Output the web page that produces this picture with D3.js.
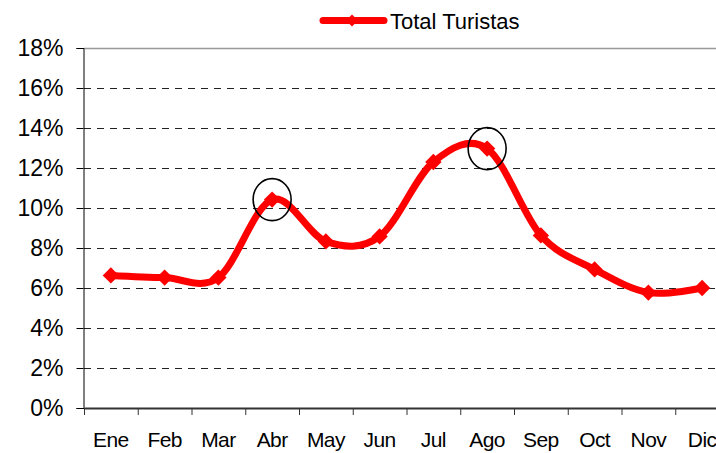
<!DOCTYPE html>
<html>
<head>
<meta charset="utf-8">
<script src="https://cdn.jsdelivr.net/npm/d3@7"></script>
<style>
    body { margin: 0; background: #fff; }
    svg { display: block; font-family: "Liberation Sans", Arial, sans-serif; }
</style>
</head>
<body>
<script>
(function() {

    var months = ["Ene", "Feb", "Mar", "Abr", "May", "Jun", "Jul", "Ago", "Sep", "Oct", "Nov", "Dic"];
    var turistas = [6.63, 6.52, 6.52, 10.42, 8.33, 8.58, 12.3, 12.97, 8.63, 6.93, 5.77, 6.0];
    var yTicks = [0, 2, 4, 6, 8, 10, 12, 14, 16, 18];
    var highlighted = ["Abr", "Ago"];
    var seriesName = "Total Turistas";

    var width = 716,
        height = 453;

    var svg = d3.select("body")
        .append("svg")
        .attr("width", width)
        .attr("height", height);

    // plot runs past the right edge, like the original picture
    var x = d3.scaleBand()
        .domain(months)
        .range([84, 729]);

    var xEdge = d3.scaleLinear()
        .domain([0, months.length])
        .range([84, 729]);

    var y = d3.scaleLinear()
        .domain([0, 18])
        .range([408, 48]);

    // gridlines
    svg.selectAll(".grid")
        .data(yTicks.filter(function(d){ return d > 0 && d < 18; }))
        .enter()
        .append("line")
        .attr("class", "grid")
        .attr("x1", 84)
        .attr("x2", 729)
        .attr("y1", function(d){ return y(d) + 0.5; })
        .attr("y2", function(d){ return y(d) + 0.5; })
        .attr("stroke", "#222")
        .attr("stroke-width", 1)
        .attr("stroke-dasharray", "7,6");

    // top border line
    svg.append("line")
        .attr("x1", 84).attr("x2", 729)
        .attr("y1", y(18) + 0.5).attr("y2", y(18) + 0.5)
        .attr("stroke", "#999")
        .attr("stroke-width", 1.5);

    // y axis
    var yAxis = svg.append("g")
        .attr("transform", "translate(83.5,0)")
        .call(d3.axisLeft(y)
            .tickValues(yTicks)
            .tickSize(7)
            .tickPadding(13)
            .tickFormat(function(d){ return d + "%"; }));

    yAxis.select(".domain").attr("stroke", "#000");
    yAxis.selectAll(".tick line").attr("stroke", "#000");
    yAxis.selectAll("text")
        .attr("fill", "#000")
        .style("font-size", "23px")
        .style("font-family", "Liberation Sans, Arial, sans-serif");

    // x axis: ticks between categories
    var xTickAxis = svg.append("g")
        .attr("transform", "translate(0," + y(0) + ")")
        .call(d3.axisBottom(xEdge)
            .tickValues(d3.range(0, months.length + 1))
            .tickSize(7)
            .tickSizeOuter(0)
            .tickFormat(""));

    xTickAxis.select(".domain").attr("stroke", "#333").attr("stroke-width", 2);
    xTickAxis.selectAll(".tick line").attr("stroke", "#333");

    var xAxis = svg.append("g")
        .attr("transform", "translate(0," + y(0) + ")")
        .call(d3.axisBottom(x).tickSize(0).tickPadding(24));

    xAxis.select(".domain").remove();
    xAxis.selectAll("text")
        .attr("fill", "#000")
        .style("font-size", "21px")
        .style("letter-spacing", "-0.6px")
        .style("font-family", "Liberation Sans, Arial, sans-serif");

    // series line (Excel style smoothing)
    var line = d3.line()
        .x(function(d, i){ return x(months[i]) + x.bandwidth() / 2; })
        .y(function(d){ return y(d); })
        .curve(d3.curveCardinal.tension(0));

    svg.append("path")
        .datum(turistas)
        .attr("d", line)
        .attr("fill", "none")
        .attr("stroke", "#ff0000")
        .attr("stroke-width", 7)
        .attr("stroke-linejoin", "round")
        .attr("stroke-linecap", "round");

    var diamond = d3.symbol().type(d3.symbolDiamond2).size(170);

    svg.selectAll(".marker")
        .data(turistas)
        .enter()
        .append("path")
        .attr("class", "marker")
        .attr("d", diamond)
        .attr("transform", function(d, i){
            return "translate(" + (x(months[i]) + x.bandwidth() / 2) + "," + y(d) + ")";
        })
        .attr("fill", "#ff0000");

    // highlight circles
    svg.selectAll(".ring")
        .data(highlighted)
        .enter()
        .append("ellipse")
        .attr("class", "ring")
        .attr("cx", function(m){ return x(m) + x.bandwidth() / 2; })
        .attr("cy", function(m){ return y(turistas[months.indexOf(m)]); })
        .attr("rx", 19)
        .attr("ry", 21)
        .attr("fill", "none")
        .attr("stroke", "#000")
        .attr("stroke-width", 1.6);

    // legend
    var legend = svg.append("g");

    legend.append("line")
        .attr("x1", 323).attr("x2", 384)
        .attr("y1", 20.5).attr("y2", 20.5)
        .attr("stroke", "#ff0000")
        .attr("stroke-width", 7)
        .attr("stroke-linecap", "round");

    legend.append("path")
        .attr("d", d3.symbol().type(d3.symbolDiamond2).size(90))
        .attr("transform", "translate(352,20.5)")
        .attr("fill", "#ff0000");

    legend.append("text")
        .attr("x", 390)
        .attr("y", 28.5)
        .style("font-size", "22px")
        .attr("fill", "#000")
        .text(seriesName);

})();
</script>
</body>
</html>
